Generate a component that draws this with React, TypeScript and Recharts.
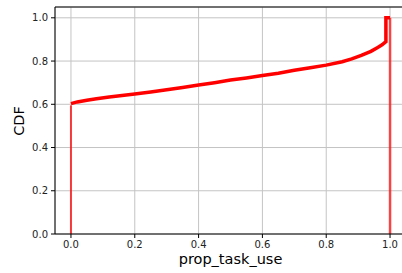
import React from 'react';
import {
  LineChart,
  Line,
  XAxis,
  YAxis,
  CartesianGrid,
  ReferenceLine
} from 'recharts';

// cumulative share of rows
const propX = [
  0, 0.02, 0.05, 0.08, 0.12, 0.16, 0.2, 0.25, 0.3, 0.35, 0.4, 0.45, 0.5,
  0.55, 0.6, 0.65, 0.7, 0.75, 0.8, 0.85, 0.88, 0.91, 0.94, 0.96, 0.975,
  0.987, 0.987, 1.0
];
const cdfY = [
  0.603, 0.611, 0.619, 0.626, 0.634, 0.641, 0.648, 0.657, 0.667, 0.678, 0.689,
  0.7, 0.712, 0.722, 0.733, 0.744, 0.757, 0.769, 0.781, 0.797, 0.81, 0.826,
  0.845, 0.862, 0.875, 0.89, 1.0, 1.0
];

// the closing edges of the step histogram
const leftEdge = [
  { x: 0, y: 0 },
  { x: 0, y: 0.595 }
];
const rightEdge = [
  { x: 1, y: 1 },
  { x: 1, y: 0 }
];

const xTicks = [0, 0.2, 0.4, 0.6, 0.8, 1.0];
const yTicks = [0, 0.2, 0.4, 0.6, 0.8, 1.0];

const curve = propX.map((x, i) => ({ x, y: cdfY[i] }));

const FONT = '"DejaVu Sans", sans-serif';
const tickStyle = { fontSize: 10, fill: '#222', fontFamily: FONT };

export default function App() {
  return (
    <div
      style={{
        position: 'absolute',
        left: 0,
        top: 0,
        width: 402,
        height: 273,
        overflow: 'hidden',
        background: '#fff'
      }}
    >
      <LineChart
        width={410}
        height={273}
        margin={{ top: 7, right: 4, left: 0, bottom: 0 }}
      >
        <CartesianGrid stroke="#c4c4c4" strokeWidth={1} />
        <XAxis
          type="number"
          dataKey="x"
          domain={[-0.05, 1.05]}
          ticks={xTicks}
          tickFormatter={(v) => v.toFixed(1)}
          tick={tickStyle}
          tickSize={4}
          tickMargin={3}
          height={39}
          stroke="#000"
          allowDuplicatedCategory={false}
          label={{
            content: () => (
              <text
                x={230.5}
                y={264}
                textAnchor="middle"
                fontSize={14.5}
                fontFamily={FONT}
                fill="#000"
              >
                prop_task_use
              </text>
            )
          }}
        />
        <YAxis
          type="number"
          domain={[0, 1.05]}
          ticks={yTicks}
          tickFormatter={(v) => v.toFixed(1)}
          tick={tickStyle}
          tickSize={4}
          tickMargin={3}
          width={55}
          stroke="#000"
          label={{
            content: () => (
              <text
                x={19}
                y={121}
                transform="rotate(-90 19 121)"
                textAnchor="middle"
                dominantBaseline="central"
                fontSize={14.5}
                fontFamily={FONT}
                fill="#000"
              >
                CDF
              </text>
            )
          }}
        />
        <ReferenceLine y={1.05} stroke="#000" strokeWidth={1} />
        <Line
          data={leftEdge}
          dataKey="y"
          stroke="#ff0000"
          strokeOpacity={0.75}
          strokeWidth={2}
          dot={false}
          isAnimationActive={false}
        />
        <Line
          data={rightEdge}
          dataKey="y"
          stroke="#ff0000"
          strokeOpacity={0.7}
          strokeWidth={2.5}
          dot={false}
          isAnimationActive={false}
        />
        <Line
          data={curve}
          dataKey="y"
          type="linear"
          stroke="#ff0000"
          strokeWidth={3.5}
          dot={false}
          isAnimationActive={false}
        />
      </LineChart>
    </div>
  );
}
